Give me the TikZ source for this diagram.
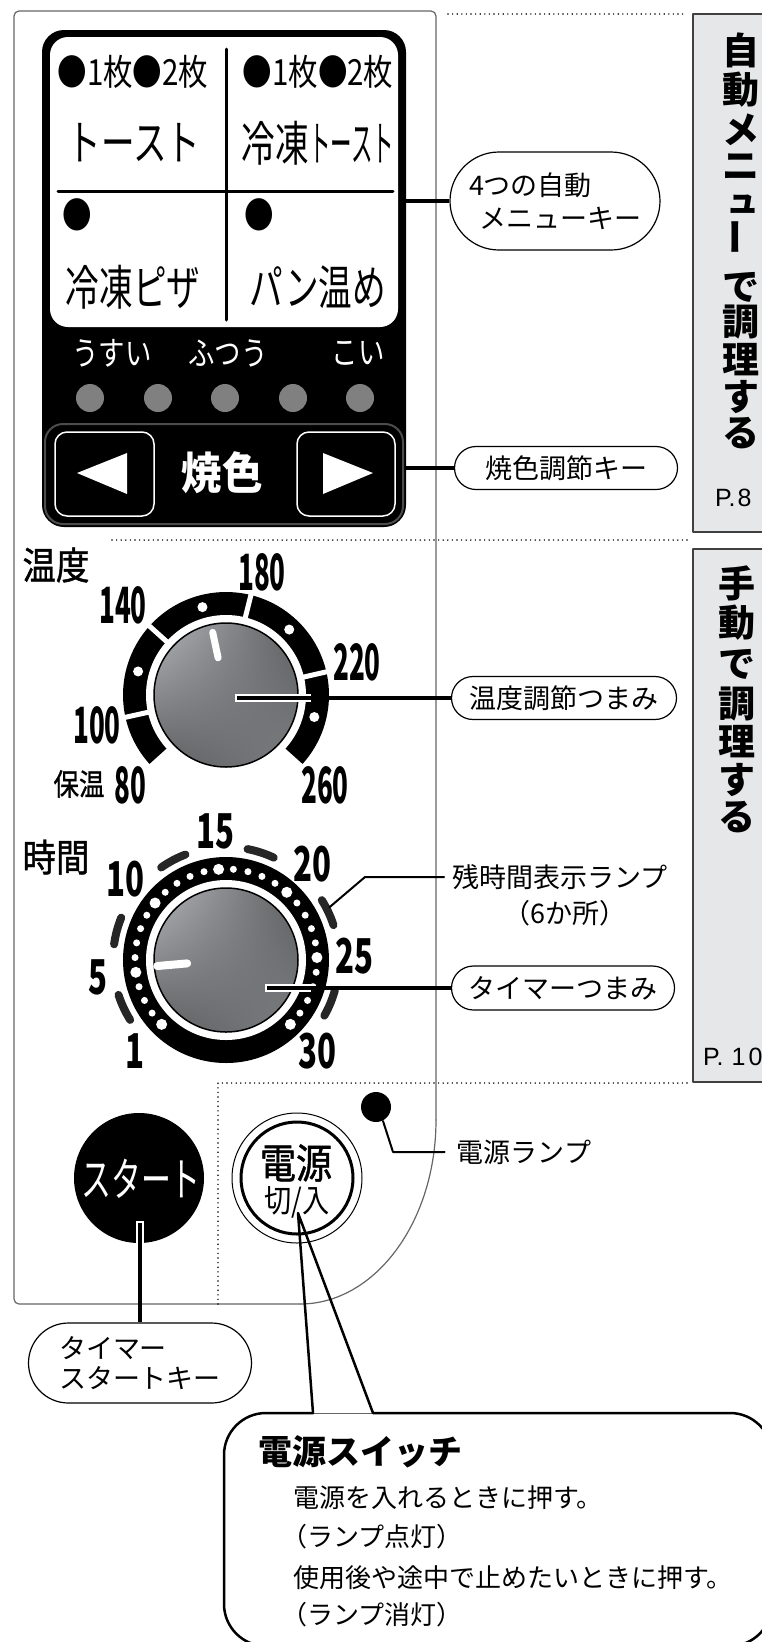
\documentclass[tikz,border=0pt]{standalone}
\usepackage{graphicx}
\usepackage{fontspec}
\setmainfont{Noto Sans CJK JP}
\newfontfamily\jpmed{Noto Sans CJK JP}[FakeBold=1.2]
\newfontfamily\pagefont{Liberation Sans}
\usetikzlibrary{shapes.misc,shadings}

\definecolor{knobhi}{HTML}{B4B6B9}
\definecolor{knobmid}{HTML}{5C5D5F}
\definecolor{knoblo}{HTML}{7D7E81}
\definecolor{tabgray}{HTML}{E6E7E8}
\definecolor{lampgray}{HTML}{808080}

\begin{document}
\begin{tikzpicture}[x=1pt,y=-1pt,line cap=round,line join=round,
  callout/.style={draw,line width=1.2pt,fill=white,rounded rectangle,inner sep=0pt,align=left,font=\fontsize{27}{33}\selectfont},
  note/.style={inner sep=0pt,font=\fontsize{27}{27}\selectfont},
  keytxt/.style={inner sep=0pt,xscale=0.7,font=\fontsize{48}{48}\selectfont},
  marktxt/.style={inner sep=0pt,xscale=0.82,font=\fontsize{36}{36}\selectfont},
  shadetxt/.style={inner sep=0pt,text=white,xscale=0.8,font=\fontsize{33}{33}\selectfont},
  tempnum/.style={inner sep=0pt,xscale=0.52,font=\bfseries\fontsize{50}{50}\selectfont},
  timenum/.style={inner sep=0pt,xscale=0.65,font=\bfseries\fontsize{48}{48}\selectfont},
  dialname/.style={inner sep=0pt,xscale=0.88,font=\jpmed\fontsize{38}{38}\selectfont},
  tabtxt/.style={inner sep=0pt,font=\bfseries\fontsize{37}{37}\selectfont},
  pagetxt/.style={inner sep=0pt,anchor=west,font=\pagefont\fontsize{25}{25}\selectfont},
  bodytxt/.style={inner sep=0pt,anchor=west,font=\fontsize{26}{26}\selectfont},
  link/.style={line width=4.5pt,line cap=butt},
  halo/.style={white,line width=8.5pt,line cap=butt},
  thinlink/.style={line width=2pt},
  dotline/.style={line width=1.6pt,dash pattern=on 0pt off 4.6pt,line cap=round},
  knob/.style={upper left=knobhi,upper right=knobmid,lower left=knobmid,lower right=knoblo,draw=black,line width=1.5pt}]
\useasboundingbox (0,0) rectangle (761,1642);

% panel outline and dotted separators
\draw[black!60,line width=1.2pt,rounded corners=5pt] (300,1304) -- (14,1304) -- (14,11) -- (436,11) -- (436,1120);
\draw[black!60,line width=1.2pt] (436,1120) arc[start angle=0,end angle=90,x radius=136,y radius=184];
\draw[dotline] (448,14) -- (687,14);
\draw[dotline] (112,540) -- (687,540);
\draw[dotline] (218,1304) -- (218,1083) -- (688,1083);

% side tabs
\filldraw[fill=tabgray,draw=black!75,line width=1.2pt] (693,14) rectangle (790,532);
\filldraw[fill=tabgray,draw=black!75,line width=1.2pt] (693,549) rectangle (790,1082);
\foreach \c/\y [count=\i] in {自/50,動/90,メ/130,ニ/167,で/287,調/322,理/360,す/397,る/433}
  \node[tabtxt] (auto\i) at (741,\y) {\c};
\node[tabtxt,font=\bfseries\fontsize{33}{33}\selectfont] (autosmall) at (743,204) {ュ};
\node[tabtxt,rotate=90] (autobar) at (741,237) {ー};
\node[pagetxt] (page8) at (715,498) {P.\hspace{2pt}8};
\foreach \c/\y [count=\i] in {手/583,動/623,で/664,調/704,理/742,す/780,る/817}
  \node[tabtxt] (manual\i) at (737,\y) {\c};
\node[pagetxt] (page10) at (703,1057) {P.\hspace{8pt}1\hspace{3pt}0};

% menu keys
\fill[rounded corners=22pt] (42,30) rectangle (406,527);
\draw[black!70,line width=2pt,rounded corners=18pt] (45,424) rectangle (403,524);
\fill[white,rounded corners=18pt] (50,37) rectangle (398,327);
\draw[line width=3pt] (226,49) -- (226,320);
\draw[line width=3pt] (58,191) -- (393,191);
\node[marktxt] (toastmark) at (133,72) {●1枚●2枚};
\node[marktxt] (frtoastmark) at (318,72) {●1枚●2枚};
\node[keytxt] (toast) at (134,143) {トースト};
\node[keytxt] (frtoast) at (318,143) {冷凍\scalebox{0.64}[1]{トースト}};
\node[marktxt] (pizzamark) at (77,215) {●};
\node[marktxt] (breadmark) at (259,215) {●};
\node[keytxt] (pizza) at (133,287) {冷凍ピザ};
\node[keytxt] (bread) at (318,287) {パン温め};

% browning level
\node[shadetxt] (light) at (112,353) {うすい};
\node[shadetxt] (normal) at (228,353) {ふつう};
\node[shadetxt] (dark) at (358,353) {こい};
\foreach \x in {90,158,225,293,360}
  \fill[lampgray] (\x,398) circle (14);
\filldraw[fill=black,draw=white,line width=1.5pt,rounded corners=12pt] (55,432) rectangle (154,516);
\filldraw[fill=black,draw=white,line width=1.5pt,rounded corners=12pt] (297,432) rectangle (395,516);
\fill[white] (77,473) -- (127,453) -- (127,494) -- cycle;
\fill[white] (373,473) -- (323,453) -- (323,494) -- cycle;
\node[inner sep=0pt,text=white,xscale=0.92,font=\bfseries\fontsize{44}{44}\selectfont] (burn) at (222,473) {焼色};

\node[callout,minimum width=210pt,minimum height=98pt] (menukey) at (555,201) {4つの自動\\\hspace{10pt}メニューキー};
\coordinate (menuend) at (406,201);
\draw[link] (menuend) -- (menukey.west);
\node[callout,minimum width=223pt,minimum height=43pt] (burnkey) at (566,468) {焼色調節キー};
\coordinate (burnend) at (406,468);
\draw[link] (burnend) -- (burnkey.west);

% temperature dial
\begin{scope}[shift={(226,695)},y=1pt]
  \fill (-42:103) arc[start angle=-42,end angle=222,radius=103] -- (222:78) arc[start angle=222,end angle=-42,radius=78] -- cycle;
  \foreach \a in {192.5,138,76,13}
    \draw[white,line width=5pt,line cap=butt] (\a:74) -- (\a:106);
  \foreach \a in {165,105,46,-14}
    \fill[white] (\a:91) circle (5);
  \fill[white] (0,0) circle (80);
  \shadedraw[knob] (0,0) circle (72);
  \draw[white,line width=7pt] (102:38) -- (102:64);
  \coordinate (tempc) at (11,-3);
\end{scope}
\node[dialname] (tempname) at (56,565) {温度};
\node[tempnum] (t140) at (123,605) {140};
\node[tempnum] (t180) at (262,572) {180};
\node[tempnum] (t220) at (357,662) {220};
\node[tempnum] (t100) at (97,725) {100};
\node[inner sep=0pt,xscale=0.85,font=\jpmed\fontsize{30}{30}\selectfont] (keepwarm) at (79,784) {保温};
\node[tempnum] (t80) at (130,785) {80};
\node[tempnum] (t260) at (325,785) {260};
\node[callout,minimum width=225pt,minimum height=43pt] (tempknob) at (564,698) {温度調節つまみ};
\draw[halo,shorten <=-2pt,shorten >=140pt] (tempc) -- (tempknob.west);
\draw[link] (tempc) -- (tempknob.west);

% timer dial
\begin{scope}[shift={(226,960)},y=1pt]
  \fill (0,0) circle (103);
  \foreach \m in {1,...,30}
    \fill[white] ({225-(\m-1)*9.31}:91) circle (3.5);
  \foreach \m in {1,5,10,15,20,25,30} {
    \fill[white] ({225-(\m-1)*9.31}:91) circle (5.5);
    \node[timenum] (min\m) at ({225-(\m-1)*9.31}:129) {\m};
  }
  \foreach \a in {205,165,118,72,25,-22.5}
    \draw[black!85,line width=8pt] ({\a+7}:113) arc[start angle=\a+7,end angle=\a-7,radius=113];
  \fill[white] (0,0) circle (80);
  \shadedraw[knob] (0,0) circle (72);
  \draw[white,line width=8pt] (185:39) -- (185:69);
  \coordinate (timec) at (41,-28);
  \coordinate (lampend) at (27:116);
\end{scope}
\node[dialname] (timename) at (56,857) {時間};
\node[note] (lamptext) at (560,877) {残時間表示ランプ};
\node[note] (lampcount) at (565,913) {（6か所）};
\coordinate (lampbend) at (365,877);
\draw[thinlink,shorten >=8pt] (lampend) -- (lampbend) -- (lamptext.west);
\node[callout,minimum width=223pt,minimum height=44pt] (timerknob) at (563,988) {タイマーつまみ};
\draw[halo,shorten <=-2pt,shorten >=140pt] (timec) -- (timerknob.west);
\draw[link] (timec) -- (timerknob.west);

% start and power buttons
\fill (139,1178) circle (65);
\node[inner sep=0pt,text=white,xscale=0.65,font=\fontsize{46}{46}\selectfont] (start) at (141,1179) {スタート};
\coordinate (startend) at (140,1223);
\node[callout,minimum width=223pt,minimum height=80pt,font=\fontsize{27}{30}\selectfont] (startkey) at (140,1363) {タイマー\\スタートキー};
\draw[halo,shorten <=-2pt,shorten >=60pt] (startend) -- (startkey.north);
\draw[link] (startend) -- (startkey.north);

\draw[line width=1pt] (297,1178) circle (65);
\draw[line width=3pt] (297,1178) circle (56);
\node[inner sep=0pt,xscale=0.88,font=\jpmed\fontsize{41}{41}\selectfont] (pwr) at (296,1163) {電源};
\node[inner sep=0pt,xscale=0.85,font=\fontsize{32}{32}\selectfont] (pwronoff) at (297,1202) {切/入};
\fill (376,1107) circle (15);
\coordinate (pwrlamp) at (383,1121);
\coordinate (pwrbend) at (393,1152);
\node[note] (pwrlamptext) at (524,1152) {電源ランプ};
\draw[thinlink,shorten >=12pt] (pwrlamp) -- (pwrbend) -- (pwrlamptext.west);

% power switch balloon
\coordinate (pwrtip) at (298,1213);
\coordinate (bubleft) at (313,1413);
\coordinate (bubright) at (373,1413);
\draw[line width=2.5pt,rounded corners=42pt] (bubright) -- (772,1413) -- (772,1646) -- (224,1646) -- (224,1413) -- (bubleft);
\draw[black!60,line width=1pt] (bubleft) -- (bubright);
\draw[line width=2.5pt] (bubleft) -- (pwrtip) -- (bubright);
\node[inner sep=0pt,anchor=west,font=\bfseries\fontsize{34}{34}\selectfont] (pwrswitch) at (258,1452) {電源スイッチ};
\node[bodytxt] (body1) at (293,1498) {電源を入れるときに押す。};
\node[bodytxt] (body2) at (281,1537) {（ランプ点灯）};
\node[bodytxt] (body3) at (293,1578) {使用後や途中で止めたいときに押す。};
\node[bodytxt] (body4) at (281,1615) {（ランプ消灯）};
\end{tikzpicture}
\end{document}
